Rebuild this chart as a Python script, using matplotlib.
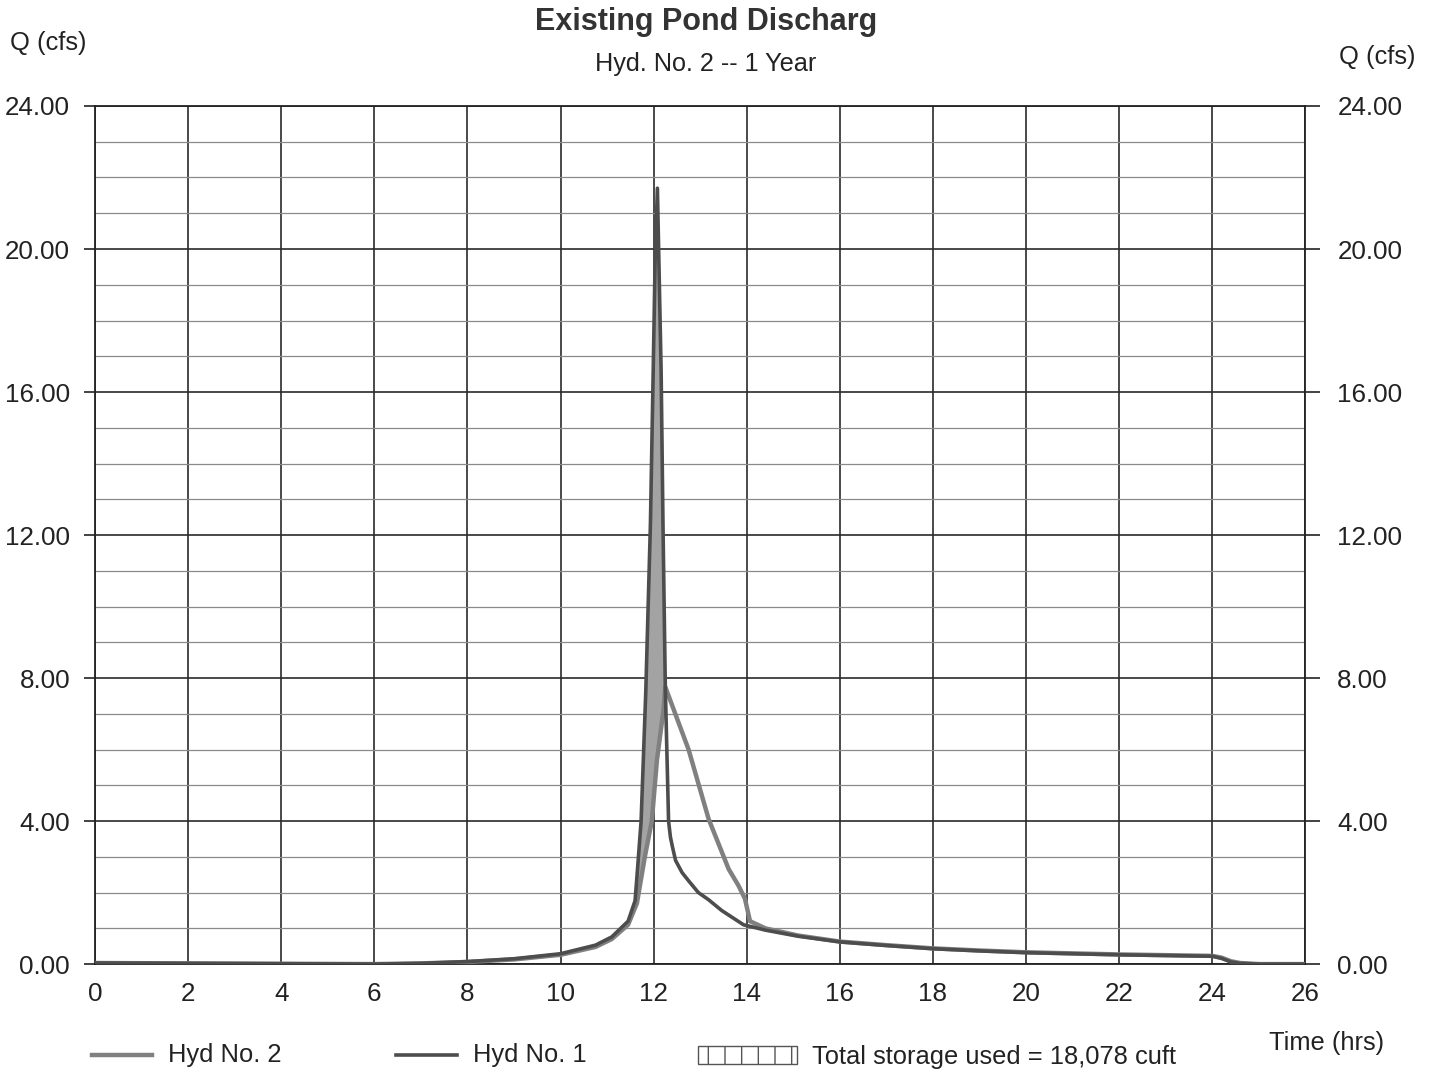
import numpy as np
import matplotlib
matplotlib.use('Agg')
import matplotlib.pyplot as plt
from matplotlib.lines import Line2D
from matplotlib.patches import Rectangle

plt.rcParams['font.family'] = ['Liberation Sans', 'DejaVu Sans']

# Hyd No. 1 (inflow) - time (hrs) and flow (cfs)
t_hyd1 = [0, 2, 4, 6, 7, 8, 9, 10, 10.75, 11.1, 11.45, 11.6, 11.65, 11.73, 11.83,
          11.93, 11.99, 12.03, 12.08, 12.16, 12.2, 12.25, 12.32, 12.36, 12.4, 12.47,
          12.61, 12.75, 12.96, 13.18, 13.46, 13.93, 14.4, 15.1, 16, 17, 18, 19, 20,
          21, 22, 23, 24, 24.2, 24.4, 24.6, 25, 26]
q_hyd1 = [0.03, 0.02, 0.01, 0.0, 0.02, 0.07, 0.15, 0.29, 0.53, 0.76, 1.2, 1.77, 2.6,
          4.0, 7.6, 12.3, 16.6, 19.6, 21.7, 16.6, 12.3, 7.75, 4.0, 3.55, 3.3, 2.9,
          2.56, 2.33, 2.0, 1.8, 1.5, 1.1, 0.95, 0.78, 0.62, 0.52, 0.43, 0.37, 0.32,
          0.29, 0.26, 0.24, 0.22, 0.16, 0.06, 0.02, 0.0, 0.0]

# Hyd No. 2 (pond discharge)
t_hyd2 = [0, 2, 4, 6, 7, 8, 9, 10, 10.75, 11.1, 11.45, 11.64, 11.81, 11.96, 12.07,
          12.21, 12.25, 12.75, 13.18, 13.61, 13.82, 13.96, 14.07, 14.4, 15.1, 16, 17,
          18, 19, 20, 21, 22, 23, 24, 24.2, 24.4, 24.6, 25, 26]
q_hyd2 = [0.03, 0.02, 0.01, 0.0, 0.02, 0.06, 0.13, 0.26, 0.48, 0.7, 1.1, 1.7, 3.0,
          4.0, 5.7, 7.1, 7.75, 6.0, 4.06, 2.66, 2.2, 1.83, 1.2, 1.0, 0.8, 0.63, 0.53,
          0.44, 0.38, 0.33, 0.3, 0.27, 0.25, 0.23, 0.18, 0.08, 0.03, 0.0, 0.0]

# storage window: between split and crossing of the two hydrographs
storage_start, storage_end = 11.45, 12.25

x_ticks = list(range(0, 27, 2))
y_ticks = [0, 4, 8, 12, 16, 20, 24]
y_labels = ['%.2f' % v for v in y_ticks]

title = 'Existing Pond Discharg'
subtitle = 'Hyd. No. 2 -- 1 Year'
storage_label = 'Total storage used = 18,078 cuft'

FS = 18.7

fig = plt.figure(figsize=(14.34, 10.76), dpi=100)
ax = fig.add_axes([0.0663, 0.104, 0.844, 0.7975])

t1 = np.array(t_hyd1)
q1 = np.array(q_hyd1)
t2 = np.array(t_hyd2)
q2 = np.array(q_hyd2)
m1 = (t1 >= storage_start) & (t1 <= storage_end)
m2 = (t2 >= storage_start) & (t2 <= storage_end)
ax.fill(np.concatenate([t1[m1], t2[m2][::-1]]),
        np.concatenate([q1[m1], q2[m2][::-1]]),
        color='#a3a3a3', lw=0, zorder=2)

ax.plot(t2, q2, color='#808080', lw=3.2, zorder=3)
ax.plot(t1, q1, color='#4d4d4d', lw=2.6, zorder=4)

ax.set_xlim(0, 26)
ax.set_ylim(0, 24)
ax.set_xticks(x_ticks)
ax.set_yticks(y_ticks)
ax.set_yticklabels(y_labels)
ax.set_yticks(np.arange(0, 25, 1), minor=True)
ax.grid(which='major', color='#2a2a2a', lw=1.2)
ax.grid(which='minor', axis='y', color='#8a8a8a', lw=0.9)
ax.tick_params(axis='x', length=0, pad=13, labelsize=FS, colors='#222')
ax.tick_params(axis='y', which='major', direction='out', length=8, width=1.2,
               pad=10, labelsize=FS, colors='#222')
ax.tick_params(axis='y', which='minor', length=0)
for s in ax.spines.values():
    s.set_color('#222')
    s.set_linewidth(1.3)

ax2 = ax.twinx()
ax2.set_ylim(0, 24)
ax2.set_yticks(y_ticks)
ax2.set_yticklabels(y_labels)
ax2.tick_params(axis='y', direction='out', length=11, width=1.2, pad=12,
                labelsize=FS, colors='#222')
for s in ax2.spines.values():
    s.set_visible(False)

fig.text(0.4923, 0.9796, title, ha='center', va='center', fontsize=22,
         fontweight='bold', color='#333')
fig.text(0.4923, 0.9405, subtitle, ha='center', va='center', fontsize=18.2, color='#222')
fig.text(0.007, 0.96, 'Q (cfs)', ha='left', va='center', fontsize=18.4, color='#222')
fig.text(0.934, 0.947, 'Q (cfs)', ha='left', va='center', fontsize=18.4, color='#222')
fig.text(0.9655, 0.0307, 'Time (hrs)', ha='right', va='center', fontsize=18.4, color='#222')

# legend row along the bottom
ly = 0.0195
fig.add_artist(Line2D([0.064, 0.106], [ly, ly], color='#808080', lw=3.2,
                      transform=fig.transFigure))
fig.text(0.117, ly, 'Hyd No. 2', ha='left', va='center', fontsize=18.4, color='#222')
fig.add_artist(Line2D([0.276, 0.319], [ly, ly], color='#4d4d4d', lw=2.6,
                      transform=fig.transFigure))
fig.text(0.330, ly, 'Hyd No. 1', ha='left', va='center', fontsize=18.4, color='#222')
fig.add_artist(Rectangle((0.487, ly - 0.0085), 0.069, 0.017, transform=fig.transFigure,
                         facecolor='white', edgecolor='#555', hatch='|', lw=1.0))
fig.text(0.566, ly - 0.002, storage_label, ha='left', va='center', fontsize=18.4, color='#222')

plt.savefig('out.png', dpi=100)
plt.close()
